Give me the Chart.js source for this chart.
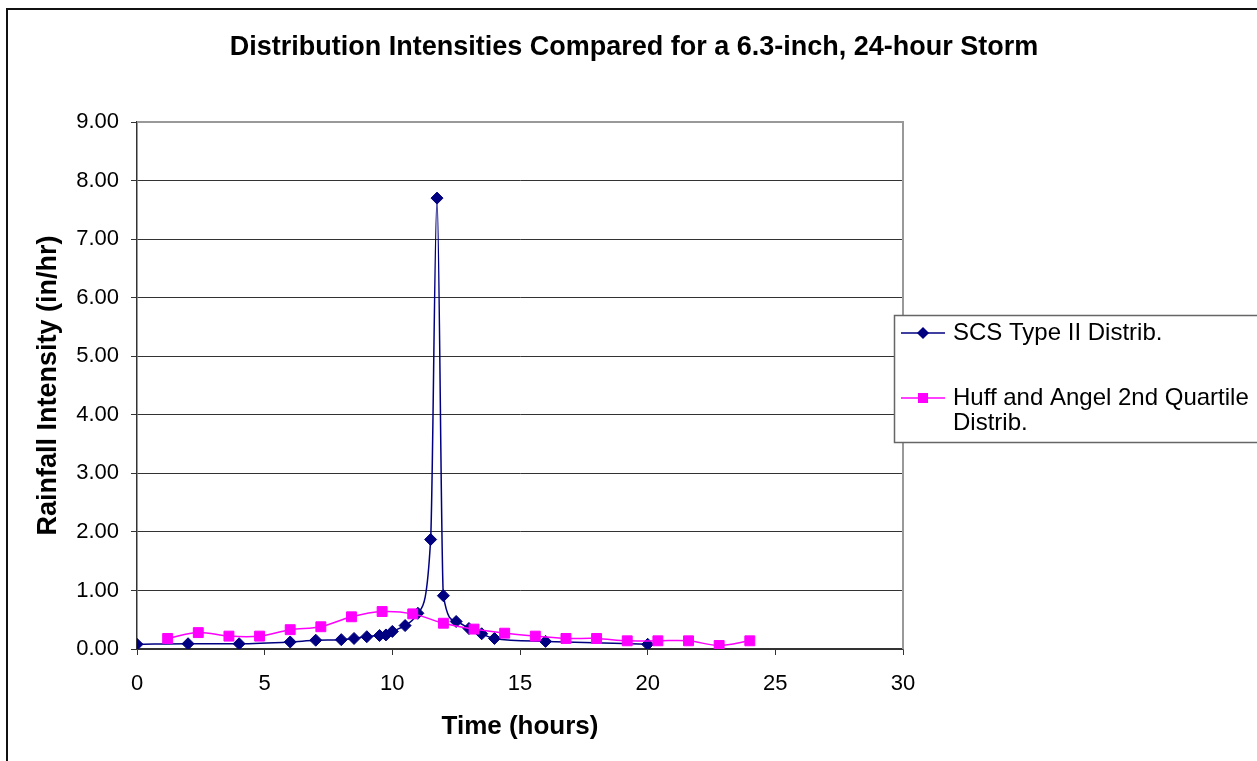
<!DOCTYPE html>
<html>
<head>
<meta charset="utf-8">
<script src="https://cdn.jsdelivr.net/npm/chart.js@4.4.1/dist/chart.umd.min.js"></script>
<style>
    body { margin: 0; background: #fff; }
    #wrap { width: 1257px; height: 761px; }
</style>
</head>
<body>
<div id="wrap"><canvas id="rain" width="1257" height="761"></canvas></div>
<script>
    const chartTitle = "Distribution Intensities Compared for a 6.3-inch, 24-hour Storm";
    const xTitle = "Time (hours)";
    const yTitle = "Rainfall Intensity (in/hr)";

    const scsLabel = "SCS Type II Distrib.";
    const scsTime = [0, 2, 4, 6, 7, 8, 8.5, 9, 9.5, 9.75, 10, 10.5, 11, 11.5, 11.75, 12, 12.5, 13, 13.5, 14, 16, 20];
    const scsIntensity = [0.08, 0.09, 0.09, 0.12, 0.15, 0.16, 0.18, 0.21, 0.23, 0.24, 0.30, 0.40, 0.61, 1.87, 7.70, 0.91, 0.47, 0.35, 0.26, 0.18, 0.13, 0.08];

    const huffLabel = "Huff and Angel 2nd Quartile Distrib.";
    const huffTime = [1.2, 2.4, 3.6, 4.8, 6.0, 7.2, 8.4, 9.6, 10.8, 12.0, 13.2, 14.4, 15.6, 16.8, 18.0, 19.2, 20.4, 21.6, 22.8, 24.0];
    const huffIntensity = [0.18, 0.28, 0.22, 0.22, 0.33, 0.38, 0.55, 0.64, 0.60, 0.44, 0.34, 0.27, 0.22, 0.18, 0.18, 0.14, 0.14, 0.14, 0.06, 0.14];

    const FONT = 'Arial, "Liberation Sans", sans-serif';

    // page frame, white background, plot border and title
    const frame = {
        id: 'frame',
        beforeDraw(chart) {
            const ctx = chart.ctx;
            ctx.save();
            ctx.fillStyle = '#fff';
            ctx.fillRect(0, 0, chart.width, chart.height);
            ctx.fillStyle = '#111';
            ctx.fillRect(6, 8, chart.width, 2);
            ctx.fillRect(6, 8, 2, chart.height);
            ctx.fillStyle = '#000';
            ctx.font = 'bold 27px ' + FONT;
            ctx.textAlign = 'center';
            ctx.textBaseline = 'middle';
            ctx.fillText(chartTitle, 634, 48);
            ctx.restore();
        },
        afterDatasetsDraw(chart) {
            const a = chart.chartArea;
            const ctx = chart.ctx;
            ctx.save();
            ctx.strokeStyle = '#999';
            ctx.lineWidth = 2;
            ctx.beginPath();
            ctx.moveTo(a.left, a.top);
            ctx.lineTo(a.right, a.top);
            ctx.lineTo(a.right, a.bottom);
            ctx.stroke();
            ctx.restore();
        }
    };

    // boxed legend on the right, as in the spreadsheet
    const boxLegend = {
        id: 'boxLegend',
        afterDraw(chart) {
            const ctx = chart.ctx;
            const left = 894, top = 315, bottom = 442;
            const textX = 953, maxW = chart.width - textX - 2;
            const rows = [333, 398];
            ctx.save();
            ctx.fillStyle = '#fff';
            ctx.fillRect(left, top, chart.width - left + 5, bottom - top);
            ctx.strokeStyle = '#666';
            ctx.lineWidth = 1.5;
            ctx.strokeRect(left + 0.5, top + 0.5, chart.width - left + 5, bottom - top);
            ctx.font = '24px ' + FONT;
            ctx.textBaseline = 'middle';
            ctx.fillStyle = '#000';
            chart.data.datasets.forEach((ds, i) => {
                const y = rows[i];
                ctx.strokeStyle = ds.borderColor;
                ctx.lineWidth = 1.5;
                ctx.beginPath();
                ctx.moveTo(901, y);
                ctx.lineTo(945, y);
                ctx.stroke();
                ctx.fillStyle = ds.pointBackgroundColor;
                Chart.helpers.drawPoint(ctx, {pointStyle: ds.pointStyle, radius: ds.pointRadius - 1, borderWidth: 1}, 923, y);
                ctx.fill();
                ctx.fillStyle = '#000';
                const words = ds.label.split(' ');
                let line = '', ly = y;
                words.forEach(w => {
                    const test = line ? line + ' ' + w : w;
                    if (ctx.measureText(test).width > maxW && line) {
                        ctx.fillText(line, textX, ly);
                        line = w;
                        ly += 25;
                    } else {
                        line = test;
                    }
                });
                ctx.fillText(line, textX, ly);
            });
            ctx.restore();
        }
    };

    new Chart(document.getElementById('rain'), {
        type: 'line',
        data: {
            datasets: [
                {
                    label: scsLabel,
                    data: scsTime.map((t, i) => ({x: t, y: scsIntensity[i]})),
                    borderColor: '#000080',
                    backgroundColor: '#000080',
                    pointBackgroundColor: '#000080',
                    pointBorderColor: '#000080',
                    borderWidth: 1.5,
                    pointStyle: 'rectRot',
                    pointRadius: 6,
                    pointBorderWidth: 1,
                    cubicInterpolationMode: 'monotone',
                    order: 1
                },
                {
                    label: huffLabel,
                    data: huffTime.map((t, i) => ({x: t, y: huffIntensity[i]})),
                    borderColor: '#ff00ff',
                    backgroundColor: '#ff00ff',
                    pointBackgroundColor: '#ff00ff',
                    pointBorderColor: '#ff00ff',
                    borderWidth: 1.5,
                    pointStyle: 'rect',
                    pointRadius: 7,
                    pointBorderWidth: 1,
                    tension: 0.35,
                    order: 0
                }
            ]
        },
        options: {
            responsive: false,
            animation: false,
            layout: {
                padding: {top: 122, right: 354, bottom: 0, left: 0}
            },
            plugins: {
                legend: {display: false},
                title: {display: false},
                tooltip: {enabled: false}
            },
            scales: {
                x: {
                    type: 'linear',
                    min: 0,
                    max: 30,
                    afterFit: s => { s.height = 112; },
                    ticks: {
                        stepSize: 5,
                        color: '#000',
                        padding: 16,
                        maxRotation: 0,
                        font: {family: FONT, size: 22}
                    },
                    grid: {
                        drawOnChartArea: false,
                        drawTicks: true,
                        tickLength: 6,
                        color: '#333'
                    },
                    border: {color: '#333', width: 1.5},
                    title: {
                        display: true,
                        text: xTitle,
                        color: '#000',
                        font: {family: FONT, size: 26, weight: 'bold'},
                        padding: {top: 0, bottom: 19}
                    }
                },
                y: {
                    min: 0,
                    max: 9,
                    afterFit: s => { s.width = 137; },
                    ticks: {
                        stepSize: 1,
                        color: '#000',
                        padding: 12,
                        font: {family: FONT, size: 22},
                        callback: v => v.toFixed(2)
                    },
                    grid: {
                        color: '#333',
                        lineWidth: 1,
                        tickLength: 6
                    },
                    border: {color: '#333', width: 1.5},
                    title: {
                        display: true,
                        text: yTitle,
                        color: '#000',
                        font: {family: FONT, size: 27, weight: 'bold'},
                        padding: {top: 32, bottom: 0}
                    }
                }
            }
        },
        plugins: [frame, boxLegend]
    });
</script>
</body>
</html>
